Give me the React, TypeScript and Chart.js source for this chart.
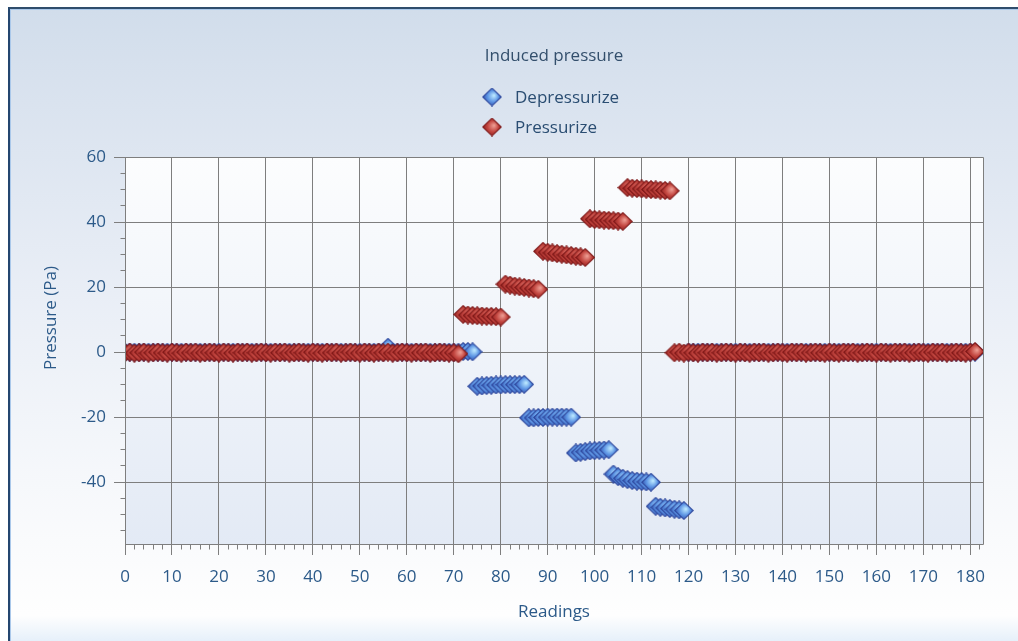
import React, { useEffect, useRef } from 'react';
import { Chart, registerables } from 'chart.js';

Chart.register(...registerables);

// ---------------- Data ----------------
const chartTitle = 'Induced pressure';
const xAxisTitle = 'Readings';
const yAxisTitle = 'Pressure (Pa)';
const seriesLabels = ['Depressurize', 'Pressurize'];

const readings = [
  0, 1, 2, 3, 4, 5, 6, 7, 8, 9,
  10, 11, 12, 13, 14, 15, 16, 17, 18, 19,
  20, 21, 22, 23, 24, 25, 26, 27, 28, 29,
  30, 31, 32, 33, 34, 35, 36, 37, 38, 39,
  40, 41, 42, 43, 44, 45, 46, 47, 48, 49,
  50, 51, 52, 53, 54, 55, 56, 57, 58, 59,
  60, 61, 62, 63, 64, 65, 66, 67, 68, 69,
  70, 71, 72, 73, 74, 75, 76, 77, 78, 79,
  80, 81, 82, 83, 84, 85, 86, 87, 88, 89,
  90, 91, 92, 93, 94, 95, 96, 97, 98, 99,
  100, 101, 102, 103, 104, 105, 106, 107, 108, 109,
  110, 111, 112, 113, 114, 115, 116, 117, 118, 119,
  120, 121, 122, 123, 124, 125, 126, 127, 128, 129,
  130, 131, 132, 133, 134, 135, 136, 137, 138, 139,
  140, 141, 142, 143, 144, 145, 146, 147, 148, 149,
  150, 151, 152, 153, 154, 155, 156, 157, 158, 159,
  160, 161, 162, 163, 164, 165, 166, 167, 168, 169,
  170, 171, 172, 173, 174, 175, 176, 177, 178, 179,
  180, 181,
];

const depressurizeValues = [
  0, 0, 0, 0, 0, 0, 0, 0, 0, 0,
  0, 0, 0, 0, 0, 0, 0, 0, 0, 0,
  0, 0, 0, 0, 0, 0, 0, 0, 0, 0,
  0, 0, 0, 0, 0, 0, 0, 0, 0, 0,
  0, 0, 0, 0, 0, 0, 0, 0, 0, 0,
  0, 0, 0, 0, 0, 0, 1.5, 0, 0, 0,
  0, 0, 0, 0, 0, 0, 0, 0, 0, 0,
  0, 0, 0.2, 0.2, 0.1,
  -10.5, -10.4, -10.3, -10.2, -10.1, -10.1, -10, -10, -10, -10, -9.9,
  -20.2, -20.2, -20.1, -20.1, -20, -20, -20, -20, -20, -20,
  -31, -30.8, -30.6, -30.4, -30.3, -30.2, -30.1, -30,
  -37.5, -38.3, -38.8, -39.2, -39.5, -39.7, -39.8, -39.9, -40,
  -47.4, -47.7, -47.9, -48.1, -48.3, -48.5, -48.7,
  0, 0, 0, 0, 0, 0, 0, 0, 0, 0,
  0, 0, 0, 0, 0, 0, 0, 0, 0, 0,
  0, 0, 0, 0, 0, 0, 0, 0, 0, 0,
  0, 0, 0, 0, 0, 0, 0, 0, 0, 0,
  0, 0, 0, 0, 0, 0, 0, 0, 0, 0,
  0, 0, 0, 0, 0, 0, 0, 0, 0, 0,
  0, 0,
];

const pressurizeValues = [
  -0.2, 0, -0.3, -0.2, 0, -0.3, -0.2, 0, -0.2, -0.3,
  0, -0.2, -0.3, 0, -0.2, 0, -0.3, -0.2, 0, -0.2,
  -0.3, 0, -0.2, -0.3, 0, -0.2, 0, -0.3, -0.2, 0,
  -0.2, -0.3, 0, -0.2, 0, -0.3, -0.2, 0, -0.2, -0.3,
  0, -0.2, -0.3, 0, -0.2, 0, -0.3, -0.2, 0, -0.2,
  -0.3, 0, -0.2, -0.3, 0, -0.2, 0, -0.3, -0.2, 0,
  -0.2, -0.3, 0, -0.2, 0, -0.3, -0.2, 0, -0.2, -0.3,
  -0.2, -0.5,
  11.6, 11.4, 11.3, 11.2, 11.1, 11.0, 11.0, 10.9, 10.8,
  20.9, 20.6, 20.3, 20.1, 19.9, 19.7, 19.5, 19.3,
  31.0, 30.7, 30.5, 30.3, 30.1, 29.9, 29.7, 29.5, 29.3, 29.1,
  41.0, 40.8, 40.7, 40.6, 40.5, 40.4, 40.3, 40.2,
  50.6, 50.4, 50.3, 50.2, 50.1, 50.0, 49.9, 49.8, 49.7, 49.6,
  -0.2, 0, -0.3,
  0, -0.2, -0.3, 0, -0.2, 0, -0.3, -0.2, 0, -0.2,
  -0.3, 0, -0.2, -0.3, 0, -0.2, 0, -0.3, -0.2, 0,
  -0.2, -0.3, 0, -0.2, 0, -0.3, -0.2, 0, -0.2, -0.3,
  0, -0.2, -0.3, 0, -0.2, 0, -0.3, -0.2, 0, -0.2,
  -0.3, 0, -0.2, -0.3, 0, -0.2, 0, -0.3, -0.2, 0,
  -0.2, -0.3, 0, -0.2, 0, -0.3, -0.2, 0, -0.2, -0.3,
  0, 0.2,
];

const xTickValues = [0, 10, 20, 30, 40, 50, 60, 70, 80, 90, 100, 110, 120, 130, 140, 150, 160, 170, 180];
const yTickValues = [-40, -20, 0, 20, 40, 60];
const xRange = { min: 0, max: 182.7 };
const yRange = { min: -59, max: 60 };
const xMinorStep = 2;
const yMinorStep = 5;

// ---------------- Styles ----------------
const FONT = "'Open Sans', 'Noto Sans', 'DejaVu Sans', sans-serif";
const TICK_COLOR = '#2c5a89';
const TITLE_COLOR = '#334f6c';
const LEGEND_COLOR = '#2a4d72';
const GRID_COLOR = '#7e7e7e';

function makeDiamond(c0: string, c1: string, c2: string, stroke: string): HTMLCanvasElement {
  const c = document.createElement('canvas');
  const w = 20;
  const h = 19;
  c.width = w;
  c.height = h;
  const ctx = c.getContext('2d') as CanvasRenderingContext2D;
  const g = ctx.createRadialGradient(w * 0.6, h * 0.42, 0.5, w / 2, h / 2, 10.5);
  g.addColorStop(0, c0);
  g.addColorStop(0.5, c1);
  g.addColorStop(1, c2);
  ctx.beginPath();
  ctx.moveTo(w / 2, 0.7);
  ctx.lineTo(w - 0.7, h / 2);
  ctx.lineTo(w / 2, h - 0.7);
  ctx.lineTo(0.7, h / 2);
  ctx.closePath();
  ctx.fillStyle = g;
  ctx.fill();
  ctx.strokeStyle = stroke;
  ctx.lineWidth = 1.1;
  ctx.stroke();
  return c;
}

const align = (v: number) => Math.round(v - 0.5) + 0.5;

const decorPlugin = {
  id: 'decor',
  beforeDraw(chart: any) {
    const { ctx, chartArea: ca } = chart;
    ctx.save();
    const g = ctx.createLinearGradient(0, ca.top, 0, ca.bottom);
    g.addColorStop(0, '#fcfdfe');
    g.addColorStop(1, '#e3eaf5');
    ctx.fillStyle = g;
    ctx.fillRect(ca.left, ca.top, ca.right - ca.left, ca.bottom - ca.top);
    ctx.restore();
  },
  afterDraw(chart: any) {
    const { ctx, chartArea: ca } = chart;
    const xs = chart.scales.x;
    const ys = chart.scales.y;
    ctx.save();
    ctx.strokeStyle = GRID_COLOR;
    ctx.lineWidth = 1;
    const l = align(ca.left), r = align(ca.right), t = align(ca.top), b = align(ca.bottom);
    ctx.beginPath();
    ctx.moveTo(l, t); ctx.lineTo(r, t); ctx.lineTo(r, b); ctx.lineTo(l, b); ctx.closePath();
    for (let v = xRange.min + xMinorStep; v <= xRange.max; v += xMinorStep) {
      if (xTickValues.includes(v)) continue;
      const px = align(xs.getPixelForValue(v));
      ctx.moveTo(px, b); ctx.lineTo(px, b + 5);
    }
    for (let v = -55; v <= yRange.max; v += yMinorStep) {
      if (yTickValues.includes(v)) continue;
      const py = align(ys.getPixelForValue(v));
      ctx.moveTo(l - 5, py); ctx.lineTo(l, py);
    }
    ctx.stroke();

    // y-axis title
    ctx.fillStyle = TICK_COLOR;
    ctx.font = `17px ${FONT}`;
    ctx.textAlign = 'center';
    ctx.textBaseline = 'middle';
    ctx.translate(41, 309);
    ctx.rotate(-Math.PI / 2);
    ctx.fillText(yAxisTitle, 0, 0);
    ctx.restore();

    // legend (stacked vertically, left-aligned)
    ctx.save();
    const cx = (ca.left + ca.right) / 2;
    ctx.font = `17px ${FONT}`;
    ctx.fillStyle = LEGEND_COLOR;
    ctx.textAlign = 'left';
    ctx.textBaseline = 'middle';
    chart.data.datasets.forEach((ds: any, i: number) => {
      const y = ca.top - 60 + i * 30;
      const img = ds.pointStyle as HTMLCanvasElement;
      ctx.drawImage(img, cx - 62 - img.width / 2, y - img.height / 2);
      ctx.fillText(ds.label, cx - 39, y + 1);
    });
    ctx.restore();
  },
};

export default function App() {
  const ref = useRef<HTMLCanvasElement>(null);

  useEffect(() => {
    if (!ref.current) return;
    const blue = makeDiamond('#b9e6ff', '#5d95e4', '#2a43a0', '#2c469c');
    const red = makeDiamond('#ec9a90', '#c2453f', '#861a1a', '#7d1616');

    const chart = new Chart(ref.current, {
      type: 'scatter',
      data: {
        datasets: [
          {
            label: seriesLabels[0],
            data: readings.map((x, i) => ({ x, y: depressurizeValues[i] })),
            pointStyle: blue as any,
            pointRadius: 9,
            order: 1,
          },
          {
            label: seriesLabels[1],
            data: readings.map((x, i) => ({ x, y: pressurizeValues[i] })),
            pointStyle: red as any,
            pointRadius: 9,
            order: 0,
          },
        ],
      },
      options: {
        responsive: false,
        animation: false,
        events: [],
        layout: { padding: { left: 0, right: 35, top: 0, bottom: 0 } },
        plugins: {
          legend: { display: false },
          tooltip: { enabled: false },
          title: {
            display: true,
            text: chartTitle,
            fullSize: false,
            color: TITLE_COLOR,
            font: { family: FONT, size: 17, weight: 'normal' },
            padding: { top: 37, bottom: 90.6 },
          },
        },
        scales: {
          x: {
            type: 'linear',
            min: xRange.min,
            max: xRange.max,
            afterBuildTicks: (s: any) => {
              s.ticks = xTickValues.map((v) => ({ value: v }));
            },
            afterFit: (s: any) => {
              s.height = 91;
            },
            grid: { color: GRID_COLOR, tickColor: GRID_COLOR, tickLength: 11, lineWidth: 1 },
            border: { display: false },
            ticks: {
              color: TICK_COLOR,
              font: { family: FONT, size: 17 },
              padding: 12,
              maxRotation: 0,
              autoSkip: false,
            },
            title: {
              display: true,
              text: xAxisTitle,
              color: TICK_COLOR,
              font: { family: FONT, size: 17 },
              padding: { top: 0, bottom: 13 },
            },
          },
          y: {
            type: 'linear',
            min: yRange.min,
            max: yRange.max,
            afterBuildTicks: (s: any) => {
              s.ticks = yTickValues.map((v) => ({ value: v }));
            },
            afterFit: (s: any) => {
              s.width = 115;
            },
            grid: { color: GRID_COLOR, tickColor: GRID_COLOR, tickLength: 11, lineWidth: 1 },
            border: { display: false },
            ticks: {
              color: TICK_COLOR,
              font: { family: FONT, size: 17 },
              padding: 8,
              autoSkip: false,
            },
            title: { display: false },
          },
        },
      },
      plugins: [decorPlugin],
    } as any);

    return () => chart.destroy();
  }, []);

  return (
    <div
      style={{
        position: 'fixed',
        top: 7,
        left: 8,
        right: 0,
        bottom: 0,
        borderTop: '2px solid #2f4d6c',
        borderLeft: '2px solid #24466f',
        boxShadow: 'inset 1px 1px 0 #aac8ea',
        background:
          'linear-gradient(to bottom, #d1ddeb 0%, #dae3ef 15%, #e9eef6 45%, #f6f8fb 75%, #fefefe 96%, #e6f0fa 100%)',
      }}
    >
      <canvas ref={ref} width={1008} height={626} style={{ display: 'block' }} />
    </div>
  );
}
